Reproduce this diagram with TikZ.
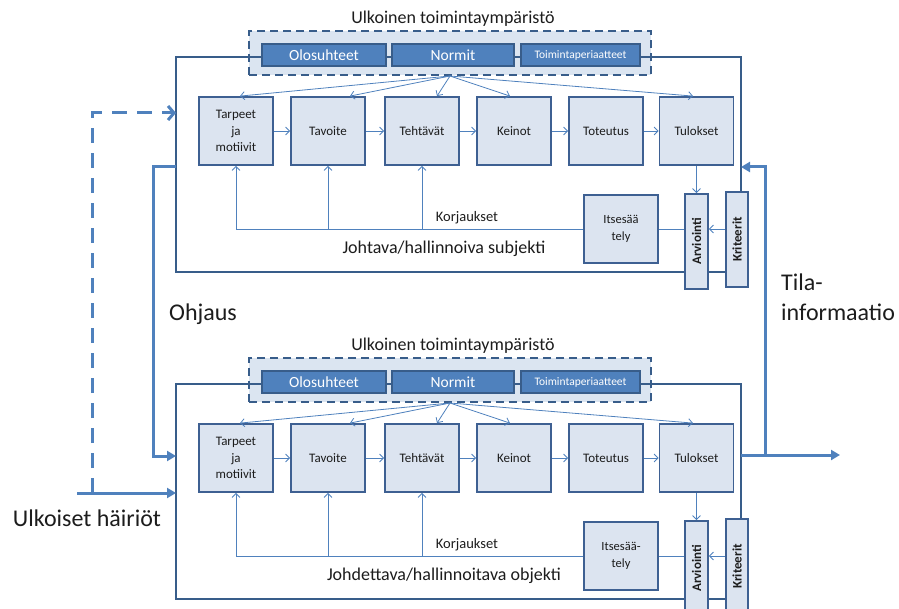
\documentclass[tikz,border=0pt]{standalone}
\usepackage{fontspec}
\setmainfont{Carlito}
\usetikzlibrary{arrows.meta}
\definecolor{boxfill}{RGB}{220,228,240}
\definecolor{boxdraw}{RGB}{62,96,146}
\definecolor{mblue}{RGB}{79,129,189}
\definecolor{dblue}{RGB}{56,93,138}
\definecolor{envfill}{RGB}{219,229,241}
\definecolor{txt}{RGB}{28,28,28}
\tikzset{
  procbox/.style={draw=boxdraw, line width=1.8pt, fill=boxfill, minimum width=74pt, minimum height=68pt,
    inner sep=1pt, align=center, font=\fontsize{13}{16.5}\selectfont, text=txt},
  itsbox/.style={procbox, font=\fontsize{12.5}{16.5}\selectfont},
  tallbox/.style={draw=boxdraw, line width=1.8pt, fill=boxfill, minimum height=95pt, inner sep=0pt,
    font=\fontsize{13}{15}\selectfont\bfseries, text=txt},
  bluebox/.style={draw=dblue, line width=1.6pt, fill=mblue, minimum height=22pt, inner sep=1pt,
    text=white, font=\fontsize{15.5}{17}\selectfont},
  envbox/.style={draw=dblue, line width=2pt, dash pattern=on 8pt off 5pt, fill=envfill,
    minimum width=402pt, minimum height=44pt},
  frame/.style={draw=dblue, line width=1.5pt},
  conn/.style={draw=mblue, line width=0.8pt, -{Straight Barb[length=4pt,width=8pt]}},
  plainconn/.style={draw=mblue, line width=0.8pt},
  bigarrow/.style={draw=mblue, line width=3pt, -{Triangle[length=9pt,width=10pt]}},
  dasharrow/.style={draw=mblue, line width=3pt, dash pattern=on 15pt off 10pt,
    -{Straight Barb[length=6pt,width=14pt]}},
  midtext/.style={text=txt, font=\fontsize{18}{20}\selectfont, inner sep=0pt},
  smalltext/.style={text=txt, font=\fontsize{14.5}{16}\selectfont, inner sep=0pt},
  bigtext/.style={text=txt, font=\fontsize{24}{30}\selectfont, inner sep=0pt},
}
\newcommand{\drawpanel}[4]{%
\begin{scope}[yshift=#2]
  \node[midtext] (#1ttl) at (453,19) {Ulkoinen toimintaympäristö};
  \node[envbox] (#1env) at (450,53) {};
  \draw[frame] (176,57) rectangle (741,272);
  \node[bluebox, minimum width=124pt] (#1olo) at (324,55) {Olosuhteet};
  \node[bluebox, minimum width=122pt] (#1nor) at (453,55) {Normit};
  \node[bluebox, minimum width=119pt, font=\fontsize{11.5}{13}\selectfont] (#1toi) at (580.5,55) {Toimintaperiaatteet};
  \node[procbox] (#1tar) at (236,131) {Tarpeet\\ja\\motiivit};
  \node[procbox] (#1tav) at (328,131) {Tavoite};
  \node[procbox] (#1teh) at (422,131) {Tehtävät};
  \node[procbox] (#1kei) at (514,131) {Keinot};
  \node[procbox] (#1tot) at (606,131) {Toteutus};
  \node[procbox] (#1tul) at (696.5,131) {Tulokset};
  \node[itsbox] (#1its) at (621,229) {#3};
  \node[tallbox, minimum width=23pt] (#1arv) at (696.5,241.5) {\rotatebox{90}{Arviointi}};
  \node[tallbox, minimum width=22pt] (#1kri) at (737,239.5) {\rotatebox{90}{Kriteerit}};
  \draw[conn] (#1tar) -- (#1tav);
  \draw[conn] (#1tav) -- (#1teh);
  \draw[conn] (#1teh) -- (#1kei);
  \draw[conn] (#1kei) -- (#1tot);
  \draw[conn] (#1tot) -- (#1tul);
  \draw[conn] (#1env.south) -- ([xshift=4pt]#1tar.north);
  \draw[conn] (#1env.south) -- ([xshift=22pt]#1tav.north);
  \draw[conn] (#1env.south) -- ([xshift=15pt]#1teh.north);
  \draw[conn] (#1env.south) -- ([xshift=-4pt]#1kei.north);
  \draw[conn] (#1env.south) -- ([xshift=-3.5pt]#1tul.north);
  \draw[conn] (#1its.west) -| (#1tar.south);
  \draw[conn] (#1tav.south |- #1its.west) -- (#1tav.south);
  \draw[conn] (#1teh.south |- #1its.west) -- (#1teh.south);
  \draw[plainconn] (#1its.east) -- (#1arv.west |- #1its.east);
  \draw[conn] (#1kri.west |- #1its.east) -- (#1arv.east |- #1its.east);
  \draw[conn] (#1tul.south) -- (#1arv.north);
  \node[smalltext] (#1kor) at (467,218) {Korjaukset};
  \node[midtext] (#1sub) at (444,249) {#4};
\end{scope}}
\begin{document}
\begin{tikzpicture}[x=1pt, y=-1pt]
  \useasboundingbox (0,0) rectangle (899,609);
  \clip (0,0) rectangle (899,609);
  \drawpanel{a}{0pt}{Itsesää\\tely}{Johtava/hallinnoiva subjekti}
  \drawpanel{b}{-327pt}{Itsesää-\\tely}{Johdettava/hallinnoitava objekti}
  % Ohjaus
  \coordinate (ohA) at (176,167);
  \coordinate (ohB) at (176,456);
  \draw[bigarrow] (ohA) -- (153,167) |- (ohB);
  \node[bigtext] (ohj) at (203,314) {Ohjaus};
  % Ulkoiset hairiot
  \coordinate (hS) at (77,493);
  \coordinate (hJ) at (92,493);
  \coordinate (hB) at (176,493);
  \coordinate (dA) at (176,113);
  \draw[bigarrow] (hS) -- (hB);
  \draw[dasharrow] (hJ) |- (dA);
  \node[bigtext] (uh) at (87,518) {Ulkoiset häiriöt};
  % Tila-informaatio
  \coordinate (tA) at (741,455);
  \coordinate (tE) at (840,455);
  \coordinate (tJ) at (765,455);
  \coordinate (tI) at (741,167);
  \draw[bigarrow] (tA) -- (tE);
  \draw[bigarrow] (tJ) |- (tI);
  \node[bigtext, align=left, anchor=west] (tila) at (781,297) {Tila-\\informaatio};
\end{tikzpicture}
\end{document}
